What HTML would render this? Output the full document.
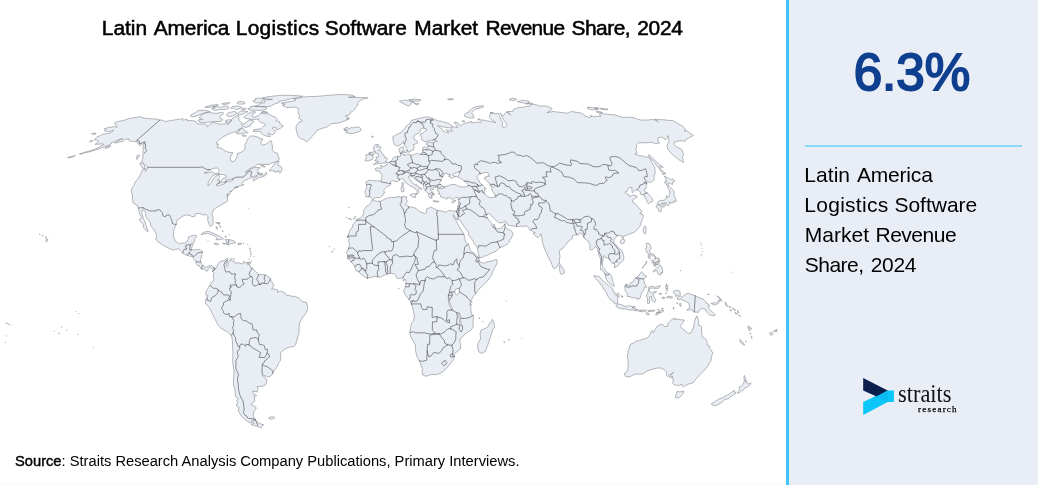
<!DOCTYPE html>
<html lang="en">
<head>
<meta charset="utf-8">
<title>Latin America Logistics Software Market Revenue Share, 2024</title>
<style>
html,body{margin:0;padding:0;}
body{width:1038px;height:485px;position:relative;overflow:hidden;background:#fff;font-family:"Liberation Sans",Arial,Helvetica,sans-serif;color:#000;}
.left{position:absolute;left:0;top:0;width:786px;height:485px;background:#fff;}
.title{position:absolute;left:0;top:15.5px;width:786px;height:24px;font-size:20.9px;line-height:24px;-webkit-text-stroke:0.55px #000;white-space:nowrap;}
.w{position:absolute;top:0;}
.map{position:absolute;left:0;top:0;}
.land{fill:#e9edf4;stroke:#7d7f84;stroke-width:0.55;stroke-linejoin:round;}
.lake{fill:#fff;stroke:#7d7f84;stroke-width:0.55;stroke-linejoin:round;}
.bord{fill:none;stroke:#5b5e65;stroke-width:0.7;stroke-linejoin:round;stroke-linecap:round;}
.source{position:absolute;left:15px;top:452px;font-size:14.7px;line-height:18px;white-space:nowrap;}
.source b{font-weight:normal;-webkit-text-stroke:0.4px #000;}
.botline{position:absolute;left:0;top:484px;width:786px;height:1px;background:#f6f8fc;}
.panel{position:absolute;left:786px;top:0;width:249px;height:485px;background:#e9edf5;border-left:3px solid #40c4ff;}
.big{position:absolute;left:-1.5px;top:42.5px;width:249px;text-align:center;font-size:51.2px;line-height:60px;font-weight:normal;-webkit-text-stroke:1.9px #0f3f8f;color:#0f3f8f;}
.rule{position:absolute;left:16px;top:145px;width:217px;height:2px;background:#8bd8f8;}
.desc{position:absolute;left:0;top:160px;width:249px;height:125px;font-size:21px;line-height:30.2px;white-space:nowrap;}
.logo{position:absolute;left:71.1px;top:376px;}
</style>
</head>
<body>
<div class="left">
<svg class="map" width="786" height="485" viewBox="0 0 786 485">
<path class="land" d="M456.5 211.1L452.4 211.2L451.3 210.6L448.4 210.7L447.4 211.4L445.4 212.2L441.7 211L437.3 210.5L434.8 209.2L431.8 207.5L430.8 207.1L426.5 209.1L426.7 212.4L424.9 213.7L419.3 211.4L416 208.4L412 207.1L409.7 207L408.5 206.5L405.4 204.6L406.7 202.5L407.5 201.2L406.4 199.7L406.2 198.4L407.1 196.8L405.5 197.3L404.6 196.1L402.3 197L400.3 197.1L397.6 196.6L394.8 197.5L390.6 197.4L387 198.1L382.9 200.1L379.7 201.6L378.2 201.1L376.2 201.2L373.3 200.4L373.3 199.6L371.9 199.9L371.5 201.4L370 204.2L368.4 205.4L366.5 206.2L364.8 208.6L363.7 210.6L363.4 212.7L364 213.4L362.6 215.9L360.2 218.1L356.7 219.5L355.7 221.6L353.2 224L352.1 227.6L349.9 230.1L349.1 233.1L347.4 237.3L348.6 236.8L349.2 238.8L348.5 240.8L349.5 244.1L348.3 249.3L346 252.6L347.5 254.8L347.7 255.7L347.6 258.1L349.2 259.6L351.4 262.1L354.2 265.6L355.1 268.1L355.9 270.4L359 271.9L360.5 273.6L364.4 276.8L367.3 278.4L371.1 277.3L375.5 276.2L379.7 277.4L383.8 275.4L386.9 274.1L389.6 273.4L391.8 273.3L394.2 273.8L396 275.6L396.6 277.8L397.7 278.6L399.7 278.3L402.6 277.9L403.9 279.3L405.7 279.6L406.1 281.9L405.8 284.7L405 288.2L403.5 290.9L404.8 294L405.5 295.3L407.8 297.9L410.4 301.3L411.2 303.2L411.5 304.4L412.5 306.8L413.1 308.9L413.3 311.3L413.7 313L414.5 316L413.6 320.7L411.6 323L410.7 327L409.9 332.4L409.9 334.5L410.4 335.4L413.3 341.3L415.4 345L415.5 346.6L415.4 349.3L416.7 355.9L419.3 360.7L420.1 362.4L420.9 365.5L422.6 368.7L422.1 371L421.8 371.7L422.7 374L422.8 375.1L423.5 374.5L423.5 375.2L425.9 376.3L430.5 374.7L433.1 374.5L436.1 374.7L437.8 374.1L440.6 373.2L442.8 371.7L446.5 368.4L450.1 363.9L452.5 361.2L453.6 359.2L454.6 356.4L454.1 354.1L454.9 353L456.2 352.3L460.7 348.8L460.5 344.3L460 341.8L459.8 338.9L463.1 336.4L464.8 334L468.1 332L471.3 329.8L473.2 326.8L473.2 325.5L473.1 321.6L473.4 316L472.6 315L471.5 314.3L471.1 311.5L470.7 308.8L470.8 306.3L469.9 305.3L470.4 301.9L471.7 299.4L472.7 297.3L474.5 294.9L478.2 290.2L481.4 286.8L484.3 284.2L486.8 281.8L491.2 275.9L492.4 272.3L493.9 269.4L495.5 266.1L497.1 263.2L496.8 259.7L495.5 259.4L492.2 261.1L490 261.4L488.3 261.4L483.1 263.2L480.8 262.6L479.7 260.9L478.9 260.3L477.7 260.4L479.2 259.4L479.2 258.1L477.9 256.8L475.3 254.6L474.3 253.1L471.9 251.8L470.4 250.3L469.7 248.1L469 245.8L468.2 244.3L465.5 242.1L465 240.3L464.8 236.8L463.4 233.8L461.3 229.6L460.7 229.5L459.2 226.7L457.7 224.1L456.9 222.5L456.4 221.2L454.7 218.5L453.6 216.6L453.2 214.5L453.6 215.4L454.6 216.7L455.8 218.7L457.3 220L457.7 218.1L457.9 216.9L458.3 215.6ZM492.4 319.3L494.1 323L494.5 327.8L492.7 329.3L491.8 333L490.1 338L487.6 345.5L485.4 351.5L481.2 353.3L478.7 351.8L477.6 346.5L478.3 342.5L480.5 339L480.1 333L481.3 329.8L485.3 328.5L488.8 325.8L489.3 323.3L491.1 322.3ZM348.3 218.5L350 218L349.3 219.2ZM350.6 219.1L351.5 219.1L351.2 220ZM353.4 219.1L354.8 217.6L354.7 218.9ZM354.9 216.4L355.7 216.4L355.2 217.1ZM346 217.4L346.5 217.4L346.3 218.1ZM332.4 251.1L333.1 251.6L332.7 252.1ZM329.2 246.6L329.8 246.6L329.6 247.1ZM330.8 252L331.2 251.8L331 252.3ZM334.2 248.8L334.8 249.1L334.4 249.3ZM402.9 279.9L404 280.1L403.5 281.2ZM398.6 288.3L399.2 288.6L398.7 289.2ZM470.6 303.7L471.4 304.3L471 305.4ZM471.7 301.5L472.1 302L471.7 302.9ZM479.2 317.8L479.7 318.3L479.2 319ZM483 321L483.4 321.3L483 321.8ZM503.8 341.5L505 342L504.3 342.6ZM508.7 339.3L509.5 339.8L508.8 340.5ZM506.4 300.8L506.7 301L506.5 301.3ZM348.1 207.4L349.2 207.5L348.7 207.8ZM521.7 338.4L522 338.5L521.7 338.7ZM104.3 128.8L109 127.5L114.4 126.6L116.8 127.5L117.2 126L115.8 125.5L114.7 122.9L117.4 121.7L124.3 120.2L128.5 118.7L132.4 118.1L140.2 116.6L142.3 117.6L144.9 118.2L149.8 118.6L156.9 119.2L159.8 120.1L162.8 120.2L165.4 121.7L170.6 120.4L172.3 120.4L179.4 119L180.3 119.7L182.7 118.2L183.3 120.4L186.9 119.1L187.1 120.6L192.7 120.6L196.4 121.7L197.2 123.9L202.1 124L206 124.2L207.1 125.7L206.9 126.8L209.3 125.1L210.7 123.2L214.1 122.5L218.4 124L224.9 124L227.1 122.4L227.6 124.7L229.5 123.4L230.3 121.5L232.5 118.3L238 115.4L239.1 118.1L238.7 120L240.5 121.7L242 123L242 125.1L246.2 122.5L249.2 119.8L253.7 121.1L253.1 122.5L250.6 124.5L250.6 125.7L246.2 127.4L243.3 126.7L241.3 127.5L240.9 129L236.8 131.2L233.9 132.3L230.3 133.2L226.5 135L222.8 137L220.4 138.8L217.4 141.3L216.4 144.1L218.5 144.2L217.2 147.5L221.3 148.2L224.4 150.6L228.1 152.2L232.8 152.6L230.1 157.7L230.9 161L233.1 162L236.1 158.9L237.5 155.3L237 153.8L241.8 152L245 149.2L244.9 146.4L244.7 144.5L246.8 142L247 139.5L250.3 135.9L254.1 136.2L257.2 136.8L259.3 137.7L259.6 138.8L262.9 138.9L261.2 141.5L260.9 143.8L262.2 145.2L265.7 144.2L268.3 142.5L271 140.5L271.9 143.6L272.5 147.1L272.2 149.4L274.1 152L277.3 153.2L277.6 154.9L278.3 156L279.4 159.4L277.2 161.3L271.9 163L269.2 164.4L262.7 164.4L257.3 164.4L254.6 166.6L252.7 167.1L248.9 169.5L245.1 172.5L249 170.3L251.8 168.5L254.7 167.4L260.2 167.7L257.2 169.6L258.3 170.5L257.4 171.9L257.7 174.1L259.2 174.7L262.3 174.9L263.4 175.4L264.8 173.9L266.3 172.2L266.7 174.6L263.9 176.3L258.2 178.1L253.3 180.9L252.7 179.9L253.8 178.1L257.2 176.3L257.1 175.4L254 176.5L251.7 177.3L248.8 178.8L247 179.5L244.3 180.4L242.5 182.9L241.6 183.7L242.2 184.6L243.5 184.3L243.3 185.2L241.7 185.6L240.2 185.7L237 186.3L234.3 187.7L238.6 187.1L234.4 188.1L234.1 188.4L231.2 192L230.4 190.7L230.7 192.4L228.8 195.4L227.6 196.5L228 193.1L226.9 194.6L226.9 196.9L227.5 197.1L227.4 201.2L224.9 202.7L221.3 204.7L216.6 207.5L213.8 209.4L212.1 213.4L212.9 218.2L213.2 222.6L212.3 225.3L210.2 226.5L209.1 224.1L207.7 219.9L207.9 216.6L205.9 214.2L203.2 215.1L199.8 213.5L198 213.6L196 213.5L194.6 216.6L192 216.6L190.2 215.6L187.1 215L185.3 215.1L183 216.1L180 218.1L177 220.1L176.2 224.5L174.1 229.3L173.2 233.7L173.7 237.1L175.7 241.3L177.3 242.6L179 244L182.9 242.8L185.4 243.1L188 239.7L188.7 236.8L190.4 236.1L194.1 235.3L196 235.3L196.6 236.5L194.8 238.8L194.4 241.1L193.4 243.6L192.3 245.6L191.8 247.8L190.3 249.6L192.4 249.7L194.9 249.8L196.7 249.5L199.9 249.7L202.6 251.8L201.9 254.3L201.1 258.1L200.7 259.3L200.6 261.9L201.9 264.3L203.6 266.3L205.1 267.3L206.7 267.1L208.7 265.9L209.6 265.3L211.8 265.8L214.2 267.7L214.5 269.4L212.8 271.3L212.3 268.6L209.5 266.9L208.3 268.6L207.6 270.8L206.2 271.3L204.8 269.8L203.5 268.8L201.9 269.2L200.4 268.2L199.7 265.8L197.3 265.3L195.9 263.6L196.2 261.7L194.6 259.8L193.2 258.1L192.7 256.6L190.5 256.3L187.8 255.5L185.2 254.6L182.7 253.1L180.2 250.3L178.8 248.8L176.6 249L173.7 250.2L170.5 249.1L166.6 247.2L163.4 245.3L162 244.5L157.8 241.7L155.4 238.3L156.4 237.7L156.7 235.6L155 231.3L152.4 227.8L150.5 225.3L150.4 222.6L147.9 219.6L145.9 216.9L145.5 212.4L144.8 211.1L142.5 209.9L141.8 211.9L142.2 214.9L143 217L144.6 221L145.8 224.4L147.1 229L148.5 230.8L147.3 232.1L146.8 230.7L143.4 227.8L143.2 223.9L141.1 222.1L138.9 219.7L141.1 218.9L141.3 217.1L139.3 213.4L138.8 209.7L138.3 208L138.2 207.6L136.8 204.9L133.2 203.2L132.4 197.9L132.5 194.9L131.4 192L131.9 188.3L134.1 185.2L134.8 182.4L138.4 178.1L140.8 174L142.9 168.8L145.9 169.3L145.4 171.4L146.9 169.7L147.6 167.3L147.2 166.6L145.5 164.9L144 163.4L141.5 162.1L142.7 159.6L142.9 157L142.8 154.6L143.9 153.5L142.6 152.2L143.4 149.6L142.9 147.8L143.7 145.3L144.5 142.7L141.6 144.8L139.5 145.5L138.6 143.8L136.9 142.3L135 141.4L130.5 141.3L128.7 140.2L129 138.8L124.8 139.5L122.8 141.3L120 141.8L114.7 143.1L116.3 142.2L119 140.1L123 138.6L119.4 139.3L116.1 140.9L111.7 142.7L111.2 144L105.5 146.4L100.8 148.2L95.6 149.9L89.8 151.8L84.6 152.8L82.8 153.3L84.7 152.2L91 150.6L97.2 148.2L102 145.5L104.2 144.3L102.1 143.8L99.1 144.1L95 144.4L97.8 142.5L98.3 141.3L96 139.9L94.5 140.1L95.8 137.9L96.6 137.2L100.8 135.4L102.6 134.4L108.3 133.4L111.6 132.5L112.6 131.2L113.8 130.3L109.6 131.4L105.5 131.2L104.3 130.8L105.9 129.5ZM306.8 141.8L303.8 139.7L300.3 138.6L298.4 136.8L297.3 133.9L296.9 131.9L296 129.2L296.1 126L299.1 122.1L302.5 121.1L300.9 119.6L298.3 117.9L299.8 116.3L298.4 113.6L298.3 110.3L298.1 108.1L295.1 107.2L286.8 107.6L284.3 106.4L282.1 105.3L285.2 104.2L281.2 103.1L289.6 101.6L294.5 100.8L296 99.9L293.5 98.9L299.7 98L303.2 97L310.2 96.6L318.4 96.3L325.4 95.5L332.3 95L341.1 94.5L349.3 94.8L352.9 95.5L355.1 96.7L348.3 97.3L360.2 97.5L368.2 97.8L362.5 99.2L359.4 100.9L357.3 103.6L357.6 105.5L355.7 107.4L354.6 109.3L352.6 111.2L350.9 112.2L349.6 114.7L345.4 116.1L349.6 118.3L346.3 119L348.6 119.2L344.3 121.1L340.7 122.5L335.7 123.4L331.5 123.6L327.4 126.8L321.7 128.6L317.2 130.1L314.8 133.4L311.7 136.8L309.4 139.5ZM214.2 267.7L215.3 269.3L216.6 266.8L218.4 263.3L220 261.7L221.5 261.2L224.4 260.4L227.3 258.2L227.9 259.8L226.4 261.3L227.1 262.6L228.5 261.6L230.3 260.6L230.9 258.8L231.3 260.6L234.2 261.3L235 263.1L237.4 262.8L239.3 262.9L242.2 263.9L243.3 263.2L246 262.6L248.4 262.5L246.8 263.8L248.1 264.3L250.2 265.6L250.6 267.8L252.8 268.6L256.3 272.3L258.5 274.4L262.7 274.6L265.3 274.9L269 277.1L270.4 278.8L271.8 281.8L274 285.1L271.6 289.2L273.9 288.8L277.5 289.8L277.5 292.5L279.8 290.8L282.8 292L285.2 293.3L286.6 295.5L288.5 295.3L292.1 296.3L295 296.3L299.4 298.5L302.5 301.7L306.5 302.3L307.7 307.2L307.6 309.4L305.8 313.4L304.4 315.5L303 316.7L300 321.8L299.1 326.3L299.1 330.4L299 333.6L298 335.5L297 340L295.7 344.3L293.7 346.6L291.2 346.8L288 347.5L284.7 349.3L281.4 351.8L280.3 353L280.8 358.2L280.5 360.5L278.8 362.5L278.2 364.2L276.7 367.5L274.7 369.6L272.6 373.6L270 376.7L267.3 376.5L263.7 375.4L262.3 374.2L262.7 375.7L265.7 377.9L265.5 379.2L267 380L266.1 384.2L264.1 385.6L259.6 386.7L257.1 386.3L258 389.2L257.3 391.8L252.6 391.2L252.9 392.9L253.7 394.4L255.6 394.4L256.7 395.6L255.1 396.4L254 396L254.3 397.3L254.8 400.5L254.5 401.4L251.5 403.6L251.9 405.2L255.6 406.7L256.2 408.3L254.1 411.3L254 412L253.2 414L253.7 417.6L255.6 419.3L253.6 419.7L251.9 420.2L251.7 421.3L251.7 423.1L249 422.1L246.4 420.4L243.7 418.5L241.3 416.1L239.9 413.7L238.2 410.1L239.2 407.6L236.4 405.9L237.4 402.8L236.9 400.3L238.5 398.6L235.8 397.1L235.3 393.9L235 391.7L234.9 388.8L233.7 385.5L233.4 381.2L233.6 378L234.1 371.9L233.3 366.7L233 364.1L232.6 360.5L232.9 356.9L232.9 353L232.7 348.4L232.3 339.8L231.4 335.4L229 333.4L227.4 331.8L224 330L220.2 327.6L217.4 324L215.2 319.4L211.5 312L210.4 309.5L208.4 306.5L205.6 303.8L205.6 302L205 301L206.8 298L208 295.5L205.6 294.8L206.1 291.7L206.6 290.2L207.5 289.3L208.5 286.9L210.4 284.8L211.3 282.8L214.4 279.6L213.4 278.8L213.4 275.6L213.9 272.8L212.8 271.3L214.5 269.4ZM255.5 420.1L252.7 420.7L253 422.1L254.3 423.5L251.8 424L251.2 424.7L255.4 425.9L258.6 426.8L261.2 427.8L261.9 426L263.8 424.8L261 424L258.5 422.8L256.7 421.2ZM268.6 418L270.4 416.8L273.3 416.8L274.9 417.6L273.5 419L270.3 419ZM262.5 111.8L266.9 112L267.5 113.6L270.1 114.9L273 116.3L275.9 117.7L277.4 119.2L276 120.6L279.9 121.7L279.8 123.8L283.3 126L280.4 128.3L276.3 129.9L275.9 127.5L273.1 127L272.6 129L275.6 131.2L273.9 133.9L272 135L270.5 134.5L267.9 133L270.2 136.8L265.8 135.9L262.2 134.1L261.5 132.3L258.7 131.2L253 131.4L253.8 129.7L261 128.8L263.2 126.6L265.6 124.5L263.7 123.2L260.2 122.3L258.7 120.2L258.5 119L255 119.4L250.3 119.4L248.4 118.7L244.8 118.3L244 116.9L247.5 114.2L251 112L255.1 111.6L255.3 112.6L252.3 114.4L252.3 116.5L254.3 117.3L259 115.3L260.8 113.4ZM205.4 112.8L210.2 112.6L216.1 113.4L219.8 112.8L222.8 112.2L223.6 113.6L220.3 116.1L219.8 118.1L223 119.8L220.7 121.5L215.8 121.5L212.4 121.7L207 122.3L201.2 122.5L199 121.5L198.1 120L202.7 119.4L199.3 118.1L199.9 116.5L202.9 114.2ZM190.2 115.3L191.3 116.9L194.9 116.5L199.1 114.9L205.6 112.6L209.8 111.6L207.8 110.9L203.3 110.3L197.5 110.7L196 112.4ZM282.6 95.3L290.5 95.3L297.9 95.7L302.6 96.2L298.1 97.5L292.6 98.4L284.5 100.4L278.8 101.3L278.8 102.7L274.9 103.8L270.2 106.4L265.8 106.5L259.2 106.6L254.3 106.4L258.8 104.9L259.9 103.3L264.7 102.7L264 100.9L267 99.6L272.6 99.4L265 98.9L262.3 97.8L269.2 96.6L276.9 95.7ZM255 98.7L260.6 98.1L264.6 99.2L262.5 100.4L262.2 101.8L256.5 103.1L254.4 102.5L252.7 101.1L255.9 100.2ZM250.8 106.2L256.4 106.4L262.1 106.6L266.8 107.7L266 109.5L261.6 110.3L255.6 110.3L249.8 110.1L247.7 108.9L250.9 107.6ZM212.8 107L217.2 106.4L220.3 107.4L226.7 105.9L229.1 107.4L228.5 108.5L225.1 109.5L219.7 109.7L214.5 110.3L211.7 108.9L215.2 107.9ZM232.5 106.4L238.7 106L241.6 107.4L238 109.3L235 109.3L233.3 108.1L230.9 108.3ZM242.2 108.1L246.2 108.5L244.5 109.9L241.5 109.5ZM228.2 112.8L234.2 111.4L236.4 112.2L236.4 113.8L232.9 115.9L229 116.7L226.5 115.3ZM240.6 111L245.7 111.2L248 111.6L243.5 113.6L238.9 115.3L237.2 114ZM225.6 120.4L229.5 119.6L232 120.4L229.6 122.3L225.7 122.1ZM238.6 129.2L243 128.3L243.8 129.7L246.8 131.4L248.1 132.7L243.2 133L238.3 134.1L235.9 133L239.1 131.6ZM204.8 107L211.9 105.1L218.4 104.6L217.5 105.7L211.4 107L206.2 107.6ZM238.3 101.5L242.5 101.5L244.5 102.5L245 103.8L239.6 104.2L236.8 103.1ZM221.9 103.6L229.8 102.5L228.7 103.8L223.1 104.7ZM242.1 134.8L244.5 135L246.4 136.1L242.8 136.3ZM261.8 111.8L266.1 112L267.6 113L264.1 113.6L261.4 113.2ZM268.9 170.7L271.1 168.5L274.5 163.9L276.5 161.8L279.2 161L277.3 164.2L277.9 165.1L281.3 166.6L281.8 168.3L281.7 170.7L280.1 173L278.8 172.2L278.8 170.7L275.2 172.4L275.2 171ZM260.7 165.1L264.3 165.9L265.2 167.1L262.1 166.6ZM258.6 172.4L260.8 173.4L262.8 173.5L260.8 174.6L258.7 173.9ZM139.8 163L142.3 163.2L144.3 164.9L145.2 168.8L142.8 168L141 165.9ZM137.4 155.1L139.6 155.3L137 159.6L136.5 157.4ZM105.9 146.9L110.8 145.7L109.6 147.1L105.2 148.7ZM79.4 153.9L82.9 153.1L82 153.9L79.5 154.4ZM70.8 157L75.3 155.3L74.3 156.3L70.6 157.4ZM67.5 157.9L70.9 156.5L70.3 157.2ZM90 140.9L92.9 140.4L92 141.5L89.8 141.8ZM91.6 133.6L95.4 133L96 134.1L92.8 134.3ZM46.3 238.8L48.2 239.8L46.4 242L45.8 240.3ZM45.3 236.8L46.6 237.3L45.7 237.8ZM42.4 235.3L43.3 235.8L42.6 236.1ZM39.4 234L40.2 234.1L39.8 234.6ZM200.9 234.6L203.1 232.6L206.5 231.5L209.7 231.6L212.8 233.1L216.8 234.8L220.5 236.8L223.5 238.7L221.3 239.6L216 239.7L217.3 238.1L214.6 235.8L210.4 234.3L207.3 233.3L204 234.1ZM222.5 243.5L224.7 243.7L227.2 242.8L226.3 241.3L225.2 239.6L228.2 239.6L231.4 240L233.9 241.1L235.8 242.8L233.2 243.3L230.6 243.6L228.7 245.2L226.6 244ZM214 243.5L216.9 243.2L218.6 244.3L216.3 245ZM238.1 243.3L241.6 243.3L240.9 244.5L238.1 244.5ZM248.4 262.4L250.5 262.3L250.2 264.1L248.3 264.1ZM216.2 226.6L217.2 227.1L217.1 229.3L216.2 228.3ZM215.6 222.6L217.7 222.5L219.3 223.4L218.8 223.9L216.4 223ZM218.9 222.1L219.6 223.1L218.9 224.6ZM224.9 236.3L226.2 236.1L226.1 237L225 237ZM219.6 225.6L220.8 226.3L220.7 227.6ZM222.2 230.3L222.9 231.5L222.9 232.1ZM249.5 248.6L250.6 248.3L250 249.3ZM250.6 252.3L251.3 252.6L251.1 253.3ZM243 243.3L243.9 243.3L243.4 243.7ZM246.9 244L247.4 244.1L247 244.3ZM249.5 246.5L249.9 246.6L249.7 246.8ZM250 250.3L250.6 250.7L250.3 251.3ZM250.7 254.1L251.1 254.6L250.7 255.1ZM250.1 256L250.5 256.2L250.3 256.6ZM253.7 256.1L254.1 256.5L253.9 256.7ZM248.8 258.8L249.3 258.9L249 259.3ZM250.8 261.1L251.6 261.1L251.1 261.4ZM232.7 258.4L233.6 259.2L233.1 259.1ZM230.8 257.8L231.1 258.2L230.9 258.3ZM234.4 258.6L234.8 259.1L234.4 259.2ZM243 261.8L244.3 261.6L244.1 262.1ZM228.8 234.6L229.6 234.8L229.1 235.1ZM207.7 241L208.3 241.1L207.8 241.2ZM248 208.5L248.4 208.5L248.2 208.7ZM456.5 211.1L456.9 210.6L457.4 209.2L457.7 207.4L458 206.2L458.5 204.6L458.9 203.2L458.5 200.6L458.7 199.1L459.1 197.9L457.4 198L455.7 197.4L454.5 198.6L452.3 199.3L450.4 198L447.6 197.3L447.2 198.9L445.6 198.9L444.4 197.8L442.6 197.4L440.8 196.9L440.3 194.8L438.2 193.6L439.4 193.3L438.8 191.2L437.4 190.7L437.6 189.4L438.6 187.9L437.1 187.6L436.7 187.3L433.7 187.1L433 188.4L433.9 189L433.1 189.5L431.9 189.5L430.8 187.9L430.1 188.3L430.2 189.4L432 191.5L431.5 192.8L433.6 193.9L433.7 195.3L432.7 194.5L431.5 194.6L431.9 195.4L432.7 195.8L432.1 196.1L431.2 195.5L431.5 196.5L432.2 198.3L430.8 197.5L430.8 198.4L429.9 196.9L429.4 197.6L428.9 196.3L428.1 195.3L428.8 193.8L430.4 194L430.2 193.4L428.1 193.5L427.5 193L426.7 192L425.6 190.7L425 189.7L423.7 188.3L423.6 186.2L423.3 184.8L422.7 184.2L421.5 183.5L420.6 182.9L419.2 181.9L417.1 180.8L416 180.1L414.5 179.3L413.7 177.1L412.8 176.3L411.7 177.4L410.9 175.8L411.4 175.5L410.9 175.2L410.1 175.5L408.7 176.1L409 177.2L408.7 178.4L409.3 179.4L411.2 180.5L412.8 183.4L415.1 184.7L416.9 184.7L416.3 185.5L418.3 186.6L420.7 187.8L421.9 189L421.6 189.9L420.9 189.3L419.2 188.3L417.9 190L419.3 191.7L418.2 192.7L417.2 194.6L416.4 194.1L416.8 192.7L417.4 192.2L417 191L416 189.3L415.4 189.3L414.2 187.8L413.1 187.3L411.7 186.4L409.7 185.8L409 185.1L408 184.2L406.6 183.5L405.3 182.1L404.8 180.6L403.9 179.4L402 178.5L401.2 178.8L400.2 179.8L398.8 180.3L397.6 181.4L396.2 181.7L395 181.3L393.7 181.1L392.1 180.6L390.5 181.7L390.4 183.2L390.9 183.7L390.7 184.7L388.7 186L386.8 186.7L386 187.7L384.3 189.5L383.7 190.8L384.8 192.6L383.3 193.5L382.8 195.3L382.2 195.4L379.7 197.6L377.1 197.6L375.2 197.6L373.2 199.1L372.7 199.4L371.3 198.1L371.1 197.4L370 196.4L368 196.9L365.7 196.8L366.1 194.5L365.4 193.3L364.8 192.5L365.1 191L366.2 189L366.7 186.6L366.5 184.8L366.5 184L365.7 182.2L367.5 181.1L368.9 180.1L370.2 180.6L372.6 180.4L376.7 180.8L380.3 181.2L381.2 180.8L381.8 177.9L382.1 175.7L381.9 174.3L380.8 173.4L380 171.6L378.2 171L375.8 170.2L375.1 169.7L375 168.9L376.6 168L378.5 167.7L379.1 168.4L380.4 168.2L381.4 168.2L380.5 165.6L381.8 165.6L382 166.5L383.8 166.6L384.5 166.1L386.3 165.1L387.2 164.4L387.3 163.1L387.3 162.8L387.8 162.5L389.1 162.3L390.7 161.6L391.1 161.4L392 160.1L392.8 158.9L393.2 157.8L393.6 157.7L394.4 157.3L395.9 156.7L397.4 156.9L397.7 157.1L397.5 156.1L399.2 156L399.4 156.5L400.2 156.4L400.5 155.6L401 155.5L400.7 155L400.2 154.6L400.9 154.1L400.2 153.2L399.8 151.8L399.1 151.6L399.1 150.3L399.2 148.9L399.8 148L402.2 146.9L403.4 146.5L403.3 147.2L402.9 148.2L404.2 149.6L402.9 150.2L402.2 151.6L401.7 151.8L401.7 152.8L401.7 153.4L403.1 154.5L404.7 154.4L404.5 155.4L405.6 155.5L406.7 154.9L407.4 154.2L408.6 154.6L409 153.7L409.7 154.6L410.8 155.5L413.1 154.9L415.4 153.9L416.7 153.5L418.1 153.3L419.4 154.5L420.6 154.2L421.1 153.8L421.1 153.1L422.1 153.1L422.9 152.3L422.9 151.3L422.7 150.4L422.5 149.4L423.2 147.3L424.9 146.5L426.3 148L427.9 148.1L428 146.2L428.1 145L426.2 144.6L426.1 143.7L426 143.1L426.9 142.8L428.1 142.6L430.3 142.2L431.2 142.5L434 142.5L434.6 142L435.5 141.5L437.5 141.5L436.5 141L434.5 140.5L434.5 139.7L433 140.1L431.6 140.3L428.2 141L424.8 141.7L422.5 140.3L421.5 139.5L421.7 138.7L421.6 137.7L421.1 136.2L420.3 134.1L422.8 133L423.5 132.6L425.4 130.8L426.9 130.1L426.5 129L425.1 128.5L424.4 128.3L422.8 128.3L421.3 128.9L420.2 129.4L420 130.9L420.7 131.2L418.8 133L416.3 134L415.1 135.4L414.2 135.9L414 137.4L414 138.4L414.4 139.8L415.7 139.9L416.7 140.5L417.4 141.9L417.8 142.9L416.2 143.8L414.6 144.2L413.2 144.5L414.2 146.5L414 147.6L414 149L413.2 150.4L411.4 150.2L410.4 150.8L410.6 151.6L409.7 151.9L407.8 152L408.1 151.5L407.5 150.5L407 149.9L407.6 149.1L406.4 148L405.7 146.6L404.7 145.3L404.2 143.8L403.7 143.1L403.2 141.5L402.8 142.7L402.1 143.5L401.1 143.9L400 144.9L398.6 145.6L396.9 146L396.1 145.7L395 144.9L394.2 144.2L394.2 143.6L393.6 142.7L393.5 141.9L393.1 140.4L392.9 138.8L393 137.7L393.1 136.3L394.8 135.7L396.1 134.6L397.4 134.3L398.7 133.3L400.6 133L401.5 131.6L403.2 130.4L404.6 129.1L405.2 127.9L405.7 126.6L407.8 125.1L409.3 123.6L410.4 122.7L410.8 121.9L411.4 120.6L414 119.6L416.7 119L417.9 118.6L421.6 118L424.6 117L427.5 117L429.9 117.6L433.4 118.6L431.4 119.2L430.2 119.2L432.1 119.9L433.3 119.8L434 120.2L435.2 119.5L437.7 120.8L440.5 121.1L443.8 122.1L448.7 123.3L451.8 125.5L452.4 126.8L450.5 127.6L448.1 127.8L443.7 127L440.9 126.4L437.4 125.4L438.8 127L441.7 128.6L442.6 130.2L442.9 131.1L445.2 132.1L447.6 132.7L448.9 132.5L447.5 131.4L445.9 129.8L448.1 130.4L451.1 131.1L452.5 131.1L451.7 130.3L450.6 128.8L452.2 127.7L453.6 126.8L455.8 127.1L457.8 128.1L456.8 126.6L457 125.7L455.5 124L454 122.2L456.9 122.5L458.9 123.6L459.6 125.3L460.7 126.1L462.2 124.5L463.6 123.9L465.3 123.4L468.2 122.5L470.2 121.7L471.8 121.6L471.7 123.2L473.8 122.5L476.9 122.3L477.5 121.9L480.9 122.9L481.3 121.5L480.9 119.8L482.3 119.9L488 121.1L490.9 121.3L495.8 122.7L492.7 120.4L489.2 117L490.3 113.5L492.1 112.9L496.1 113.8L498.2 113.3L499.3 115.2L500.1 117.5L501.2 120.1L502.5 121.9L502.2 125L502.8 127.4L504.5 127.8L506.5 125.6L506.8 123.6L504.8 121.3L503.3 119.6L502.2 117L500.7 114.1L499.9 112.9L501.9 114.7L503.3 116.1L503.9 114.7L507.1 111.8L509.4 113.8L510.8 115.2L508.8 113L506.6 111.8L510 111.5L513.4 111.2L513.4 109.5L516.3 108.3L519.1 107.6L523.1 107.2L526.6 106.4L529.5 106.4L530.1 105.1L532.9 104.2L536.1 104.7L539.2 106L540.7 106L545.8 106L547 106.4L550.7 107.6L551.7 108.1L551.8 109.3L550 111.2L549.2 111.2L547.2 112.8L551.4 111.8L554 111.4L556.4 112.2L557.7 112L564.7 112.8L567.5 113.2L570.3 111.8L571.6 111.6L576.1 112.2L579.9 112.8L581.9 113.4L584.8 115.5L584.5 116L590 117.7L591.6 116.5L590 115.5L593.9 116.5L596 116.3L598.6 116.5L600.7 116.3L599.4 114.2L599.7 113.5L604.4 113.9L608.9 114.4L614.9 114.9L619.9 116.7L623.5 117.5L626.9 117.2L630.1 117.2L635.4 118.1L638 119.4L641.6 120.2L645.2 120L649.9 119.9L651.1 119.4L655.3 120L658.4 121.9L654.5 119.2L659.9 119.7L663.5 119.7L668.2 120.4L672.8 120.6L682.7 126.4L686 129.7L684.4 130.9L687.2 131L693.4 135.5L689.3 137.6L686 139.6L685.2 141.3L680 140.7L674.5 142.1L673.6 144.2L676.9 147L681.9 149.5L683.5 154.5L682.7 157.8L683.5 162.4L679.3 160.1L673.4 155.3L668.6 150.6L667.4 148.2L667 145.9L668 143.6L668.9 141.3L668.8 139L667.6 135.6L667.5 137.7L665.5 139.9L662.3 137.2L658.2 137.5L657.8 139L658.5 142.2L659.5 143.1L655.6 143.6L651.2 142.3L648.3 142.7L645 142.9L642.1 142.7L638.2 142.8L636.3 144.8L636.5 146.9L635.8 149.5L637.1 152.9L634.8 153.9L639.2 155.8L642 155.8L646.6 157.2L648.3 157L650.7 159.6L651 161.3L654.8 167.3L654.9 171L655.4 172.7L654.2 175.6L654.1 178.3L653.9 180.1L650.5 182.5L648.1 181.7L646.5 182.9L646.9 183.7L645.8 185L646.7 186.9L646.1 187.7L645 189.4L644 189.9L644.5 191.5L647.2 192.9L649.2 195L651.2 196.9L652.6 199.3L652.9 200.6L652.6 201.6L650.7 202.1L650.3 202.6L648.2 203.6L647.3 202.4L646.5 199.5L644.8 197.5L644.9 195.8L643.5 195L642.4 194.5L640 194L640.5 192.7L639.3 190.7L637.3 189.8L634.9 190.4L633 192.2L632.2 192.6L631.9 190.4L632 187.8L629.3 187.4L627.6 189.7L627.1 191.5L624.9 192L626.3 193.9L629.3 195L629.5 196.4L630.6 196.6L632.4 194.8L634.1 195.5L635.7 195.6L636.9 195.9L636.9 197.3L633.5 199.3L632.6 200.9L633 202.5L635.2 203.6L637.8 206.9L641.1 210.1L641.9 212.1L640.1 212.9L639.9 213.6L643 214.6L643.2 216.6L643 217.9L642.2 219.6L641.4 221.4L640.7 224.4L639.6 227.1L638.2 228.2L635.8 231L633.4 232.6L630.9 233.6L629.4 234L627.4 235.1L626.1 235.3L623.4 236.3L623.2 238.7L621.7 237.1L621.7 235.8L620.1 235.7L618.4 235.3L617.7 235.6L615.5 237.6L614 239.5L614 242.5L615.9 244.6L616.4 245.7L618.9 248L620.4 249.1L622.2 251.3L623.3 255L624 257.1L623.6 258.7L623.7 259.7L623.3 260.4L621.5 262.1L619.4 263.4L618.3 265.4L616.2 266.8L614.6 267.8L614.6 264.8L615 264.3L613.6 263.3L611.5 262.8L610.1 260.3L609.1 259.1L607.8 258.1L606.2 257.7L605.3 257.8L605.3 257L604.3 255.6L603.2 256L603.3 257.9L603.1 259.8L602.2 263.1L602.5 266.3L604.4 268.2L605.2 270.3L605.7 271.3L607.3 272.1L608.5 273.3L609.5 273.8L611.5 275.9L612.3 279.8L613.4 283.2L614.4 285.9L613.4 286.1L612.6 286.1L611.3 284.8L609.8 283.8L608.8 283.1L607.7 281.8L606.5 279.6L606 278.8L605.4 275.9L605.2 274.1L604.5 272.9L603 271.1L601.8 269.3L600.5 269.8L600.5 268.9L600.3 267.6L600.9 264.4L600.3 258.2L598.7 254.1L597.9 251.2L597 248.1L595.3 246.3L594.2 248.1L592.5 249.8L591.6 250L589.8 249.3L590 245.6L589.2 243.2L587.3 240.8L585.6 239L584.1 237.6L583.1 235.7L582.4 233.6L580.6 233.1L580 233.3L577.6 234.8L576.8 234.8L574.4 235.1L573.4 235.3L572.4 235.7L572.4 237.5L572.1 238.7L570.4 239.8L568.5 241.2L565.5 245.1L563.6 247L563.7 247.8L561.3 249L560.8 250L559.2 250.8L559.5 253.3L560.1 256.6L559.3 259.4L559.6 263.6L558.4 263.6L557.8 266.1L556.2 267.3L554.9 269.1L553.4 268.1L551.8 264.4L550.5 261.2L548.2 257.1L546.2 252.3L545.4 250.6L543.9 246.8L542.4 242L542 238.3L540.8 233.8L540.3 235L538 237.6L536.5 237.1L534.7 235.2L533.1 233.7L534.7 233.1L535.2 232.3L533.8 232.3L532.3 231.2L531.1 230.2L529.5 229.6L528.2 227.3L527.1 225.8L523 226.3L520.4 226.2L518 226.6L516.5 226.3L514.3 226.1L508.2 225.2L506.2 222.6L505.8 221.6L504.5 221.5L501.7 223L498.7 222.6L496.5 220.9L495.2 219.7L492.3 217L490.6 214.4L488.4 213.2L487.1 214.5L486.2 216L487.3 218L490.4 221.9L491.7 223.2L491.8 225.6L493.4 227.5L493.1 225.6L493.9 224L494.9 226.1L495.2 227.8L495.2 228.7L497.4 228.8L501.2 228.2L502.9 226.1L504.3 224.9L504.9 223.5L505.3 226.9L506.3 228.5L510.4 230.3L513.3 233.1L512.3 235.8L511.4 238.1L509.4 240.2L509.8 241.8L507 244.5L504.6 245.5L502.1 246.8L500 247.7L498.1 248.8L496.1 251.3L491.7 253L489.1 254.3L486.5 255.7L484.3 256L482.8 257.3L479.5 257.7L479 256.1L478.1 252.3L477.7 249.6L477.6 248.3L477 247.1L474.3 243.6L473.4 241.5L471.4 238.6L468.9 235.6L468.4 232.3L466.1 229.1L464.1 226.7L462.3 223.7L460.5 221L458.8 219.1L458 219.4L458.5 216L458.5 215.5L458.3 215.6ZM697.1 316L698.7 320.8L698.7 325.3L700.4 325.5L701.8 326.8L701.4 330.5L702.1 333.8L702 336.5L704.3 337.8L706.4 340L707.1 342.5L707.3 345.3L709.5 346L709.2 348.3L710.9 349.8L712.7 352.8L711.6 356.7L711 360.7L707.6 366.2L704.8 370L700.5 373.7L698 376.7L694.6 380.5L692.9 383L689.4 383.8L685.4 385.5L683.3 386.9L682.2 385.7L681.9 384L679.3 385.5L676.3 385.2L673.7 384.3L672.5 382.7L673.3 380L673.3 378.2L671.7 378.2L672.6 376.2L670.9 377.2L669 377.2L671.3 375L673.4 372L671.7 373.7L667.3 376.5L666.6 375.7L666.7 373.2L665.9 371.2L664 369.5L660.8 368L656.1 368.2L651.3 369.7L646.6 371L643 373.9L639.6 374.1L635 374.1L631 376.2L629.2 377L625.7 376.4L624.3 375.1L624.8 373.2L626.5 372.5L627.8 369.2L628.1 365.7L628.2 362.5L627.8 358.7L627 355L628.3 354L628 351.5L629.3 348L629.6 345.8L630.9 343.8L632.1 343.8L634 342.8L636.9 340.8L639.1 340.8L642.2 339.3L646.7 338.3L650 334.8L650.4 332.3L652.2 330.5L653.4 332.8L654.5 330L656.3 327.8L657.9 325.8L660.3 324.5L662.1 324L664 326.3L665.1 326.3L667.4 326.5L668.1 323.3L669.7 321.5L671.4 319.8L675.1 318L674.9 319.8L677 318.8L680.2 319.8L682.4 319.8L684.3 320L683.1 322.5L681.5 324.3L680.3 326.5L682.8 329L685.5 331L687.5 332.8L688.9 333.5L691.1 332.5L692.7 329.3L693.9 326.5L694.2 323L694.7 320.8L696.1 316.8ZM677.5 390.9L679.5 391.9L683.8 391.2L682.7 394.1L679.9 397.1L677.2 398.1L675.6 397.8L675.7 395.6ZM744.3 375.4L744.8 376.7L745.9 378.7L745.1 381.2L746.9 380.7L746.3 383L747.9 384L750.4 383.2L751.3 383.5L747.7 386.9L745.5 387.4L743.7 389.7L739.8 392.4L737.5 393.3L737.2 392.4L740 389.7L739 387.9L739.1 387.2L741.4 386.2L743.5 383.7L744.4 380.7L743.9 377.5ZM734.6 390.4L734.3 392.2L736 392.9L734.4 394.1L730.3 396.9L728.5 398.6L724.5 399.8L720.8 403.2L716.5 405.3L713.9 405.4L711.3 404.5L712.4 403L718.3 399.3L722.5 397.8L728.2 394.6L732.7 391.4ZM673.3 291.3L676.4 290.3L680 291.3L680.3 295.5L682 297.5L684.3 295L688.3 293L690.9 294.3L695.3 295.8L699.6 297.8L703.1 299L705.6 301.5L705.9 303L708.7 304.3L709.7 306L708.1 306.5L709.8 309.5L712.2 312L713.8 313.5L715.4 314.9L713.6 315.8L709.3 314.8L707.5 313L705.4 309.5L702.2 308.3L699.4 310L698.6 312.3L694.2 312L691.1 309.5L687.8 310.3L686.9 310.3L689.8 307L688.7 303.3L685.1 301L680.8 299.3L677.5 299.5L677.1 297.5L679.4 296.3L677.7 295.3L675.4 296.5L675.9 294.5L673.3 292.8ZM711 303.3L713.6 303L716.5 302.9L718.9 299.8L720.2 300L719.2 302.5L716.6 304.5L713.5 305ZM716.9 295.8L719.5 297.5L721.6 299.8L721.5 301.3L720.3 299.3L717.8 296.8ZM724.9 302L726.4 303.8L727.5 306.3L726 305.5ZM707.7 294.3L709.5 294.3L709 294.8ZM728.8 306L730.9 307.5L729.8 307.5ZM732 308L735.7 310.3L734.4 310ZM735 312.5L737.5 313.8L735.7 314ZM737.7 310.3L738.7 313L737.9 312.5ZM738.7 315L740.5 316.3L739.2 316ZM730.1 309.3L731.5 310.8L730.6 311ZM739.7 339.5L742.3 341.8L744.7 345L743.3 344.8L740.6 342.5ZM745.9 341.3L746.4 342L745.5 342ZM6.1 323L7.4 323.3L6.9 323.8ZM8 323.9L9.1 324.1L8.5 324.4ZM5.1 342L5.7 342.1L5.4 342.4ZM58.7 333.1L59.6 333.3L59.5 333.9ZM76.1 311.4L76.5 311.5L76.3 311.8ZM700.9 255.8L701.5 255.5L701.3 256.2ZM680.3 270.8L680.6 270.3L680.5 271.1ZM732.4 272.1L732.7 271.9L732.7 272.3ZM594.2 275.3L596.9 276.3L599.1 276.3L601 278.8L602.6 280.3L604.9 282.6L606.6 283.8L608.2 285.1L610 286.8L611.6 287.8L612.9 289.3L612.7 291.3L614.6 292L615 294L615.9 295.3L618.1 296.5L618 297.5L617.5 299.8L617.5 303.8L616.2 303.8L614.7 304L614.1 302L611.3 300.3L609.8 299L608.1 296.5L606.9 294.5L605.8 291.8L604.5 289.3L603 288.6L602.3 285.3L600 283.8L598.6 281.3L596.6 279.8L594.5 277.3ZM615.9 306.3L617.8 304L619.9 304.2L622.8 305L623.6 306.3L627.1 306.5L628.5 305.3L629.8 306L632.1 306.5L632.9 308.5L636 308.8L635.8 311L633.2 310L629.5 310L626.3 309L623 308.8L620.8 308.5L618.4 307.8ZM632.4 306.8L635 306.5L635.2 307.2L632.5 307.3ZM636.1 309.8L637.7 309.5L638.7 310.3L637.6 311.3ZM639.2 310.3L640.7 310L640.6 311.5L639.3 311.4ZM641.1 310.5L643.6 309.5L644.4 310.3L646.2 310.3L645.9 311.2L643.7 311.5L641.5 311.9ZM647.7 310.5L650.4 310.3L653.2 310.3L654.8 310L654.3 311L651.4 311.5L648.1 311.3ZM645.8 313L648 312.8L649.6 314.3L647.8 315L646.1 313.8ZM655.5 315L656.8 312.8L659.1 311.5L661.4 310.5L664.2 310.3L662.4 311.8L659.4 313L657.5 314.8ZM657.7 309.8L659.4 309.7L658.5 310.3ZM661.1 308.5L663.3 308.4L662.6 309.2ZM673 307.8L674.1 307.3L673.5 309.3ZM679.9 303L681.2 303.8L680.6 306.5L679.6 305ZM677.1 302.5L677.7 303.3L677 304ZM624.8 285.6L626.2 284.2L627.6 285.1L629.6 285.8L630 283.3L633.3 281.6L635.3 278.3L636.8 277.3L638.5 275.8L640.2 273.6L641.4 271.8L642.5 272.8L643.5 274.6L646.9 276.3L644.8 277.8L643.5 278.9L644 280.6L644.6 283.6L646.9 287.1L644.2 287.3L643.6 290.5L641.5 292.8L641 295.5L640.1 298.3L637.1 299.5L636.8 298L634.8 297.8L631.3 297.8L630.4 296.5L627.3 296.5L627.2 293.3L625 290.8L625.2 288.6L624.6 287.1ZM648.6 287.3L650.8 286.1L655.5 287.1L659 286.1L660.5 285.3L658.6 288.3L656.4 288.6L652.4 288.1L649.7 288.3L649.1 291L651.3 292.8L655.5 291.4L656.6 291.8L653.9 293.5L652.8 294L654.2 297.3L655.9 299.8L654.4 302.8L652.9 301.3L652.1 300.8L651.2 296L649.6 296.8L649.6 301.3L649.5 303.3L647.5 303.3L647.7 300L647.4 297.8L646.3 296.3L647.3 293.5L648.4 291L648.6 289.1ZM665.6 286.8L666.4 283.8L666.7 286.3L668.2 285.8L667.2 287.6L668.3 288.6L666.7 288.6L667.4 291.3L666.3 289.8ZM666.3 297.3L668.8 296.3L672.8 297L670.9 298.3L668.5 297.8ZM662.2 297.3L664.1 297L664.8 298.3L663.2 298.9L662.1 298.3ZM665.4 292.8L666.7 293L666 293.7ZM658.7 293.5L662 293.9L660 294.3ZM616.4 293.8L618.2 293L619.6 295.5L618.5 296.8L617.2 295ZM621.6 295.8L622.9 296L622.7 297.3L621.6 297ZM646.4 243.1L649.3 243.6L650.6 246.1L651.4 248.6L649.6 249.6L650.4 253.8L652.2 253.8L654 254.6L656.2 257.8L655.4 257.1L653.5 255.6L652.2 256.1L650.8 254.8L648.4 254.8L647.9 252.8L646.7 252.3L645.5 248.6L646.7 247.8L646.3 245.3ZM647.8 255.8L649.8 255.8L650.3 258.3L649.2 258.6ZM642 268.3L643.8 266.3L645.6 263.6L646.9 261.1L646.2 262.8L644.4 265.3ZM651.8 259.8L654.3 260.6L653.4 263.1L652.1 262.8ZM654 262.1L655.3 262.3L654.9 266.6L653.4 264.8ZM655.3 263.6L656.3 261.3L656.4 263.6L655.4 265.6ZM656.6 258.1L658.8 258.1L660.1 261.6L658.5 261.3L658.2 259.8ZM657.2 260.8L658.6 261.8L659.2 263.8L658.4 264.3ZM656.2 264.6L657.7 264.1L657.8 265.1L656.7 265.3ZM652.8 271.8L654.4 269.8L656.5 268.1L658.6 267.1L660 264.8L661.7 266.8L662.6 270.6L662.2 273.6L661 272.1L660.5 275.3L657.8 273.8L657.1 270.6L655.4 270.8L653.3 272.1ZM654.2 258.1L656 258.6L655.3 259.6ZM620.2 241.1L622 239.3L623.9 239.1L625 240.3L624.1 242.8L622.3 243.8L620.5 243.1ZM642.9 230.6L644.1 226.8L645.2 226.1L646.1 227.1L645.9 231.3L645.4 234.3L643.5 232.3ZM559.7 264.8L560.5 264.8L562.8 268.1L564.3 270.6L564.2 273.1L561.8 274.4L560.7 274.1L559.9 271.8L559.6 268.8ZM657.7 204.4L657.3 203.1L659.5 200.6L660.9 200.4L663 200.4L664.7 200.1L665.8 198.9L666.2 196.9L666.8 195.6L667 197.3L669.1 196.4L669.5 194.8L670 193.1L669.1 189.7L667.9 187.9L667.8 186.4L668.8 185.7L671.3 188.2L673.7 190.4L674.4 193.6L673.8 194.4L675 197.1L675.3 198.9L676.4 200.1L676 201.6L675.1 202L674.3 200.6L673.4 201.4L673.5 202.9L672.2 202.7L670.4 202.9L669.1 201.9L669.7 203.6L669.1 204.6L668.5 205.7L666.6 204.6L666.2 202.9L663.5 202.9L660.8 203.9L660.3 204.7L657.9 204.5ZM666.8 185.7L666.1 183.7L664.5 182.7L665 181.3L666.8 181.3L665.4 178.3L664.2 175.8L667.4 177.8L671.4 179.5L672.8 178.8L675.1 181.3L672.5 182.1L672.6 184.5L668.7 183L667.2 183.5L668.5 185ZM655.9 206.1L657.8 204.6L659.8 205.4L661.2 207.4L661.3 210.6L660.5 211.9L658.9 211.1L657.8 208.1L656.7 207.6ZM661.4 205.9L662.1 204.4L664.2 203.5L665.8 204.9L665.3 206.1L663.2 206.1L663.2 207.5ZM663.6 174.9L661.7 172.2L658.8 168L656 164.9L653.7 161.3L649 157L648.6 154.6L652.5 157.7L655.7 161.3L659.7 164.9L663.3 167.3L659.4 166.6L661 169.7L664.7 172.7L666 174.1L663.7 173.2ZM587.6 108.7L587.4 107.2L592.1 107.4L598.2 109.3L595.1 109.7L592.4 109.9ZM599.6 108.3L603.9 108.7L608 109.1L606.6 109.9L601.9 109.3ZM596.2 111.4L599.4 111.5L602.5 112.6L599.4 112.6L596.6 112.4ZM594.6 107.6L598.2 107.9L598.3 108.9ZM517.3 101.6L522.3 100.2L529.3 101.3L529 103.1L525.4 103.6L521 102.4ZM509.1 99.6L512 98.1L516.4 98.9L515.9 100.1L512.5 100.6ZM526.4 103.8L532.2 102.9L532.4 104.1ZM461.8 121.5L463.2 120.4L465 121.5L463.5 122.1ZM477.6 119.6L479.3 118.5L480.2 119.9ZM490 112.6L492 112.2L493.3 113L491.1 113.1ZM447.5 99.2L451.8 98.6L453.6 99.2L449.9 99.8ZM399.5 101.1L403.5 100.4L406.2 100.1L409.1 100.8L414.4 102.2L411.1 102.9L410.7 104.6L408.9 106.2L405.8 104.9L403.4 103.6L400.4 102.2ZM408.8 99.6L414.2 99.2L421.2 99.9L417.6 101.3L411.2 100.8ZM414 103.3L419.1 103.8L416.6 104.9ZM343.6 129L347.1 126.9L348.8 129L350.6 127.7L354.1 127.7L357.6 126.8L360.1 127.9L361.5 129.9L359.1 131.6L355.8 132.7L352.2 133.6L349.7 133.3L345.9 132.6L347.3 131.4L344 130.3L347.4 129.9ZM371.5 136.3L373.1 136.1L372.5 137.7ZM373.4 164.8L376.3 164L377.8 163.4L380.5 163.4L382.8 163.1L384.9 163.1L386.2 162.6L386.9 162L385.4 161.4L386.5 160.6L387.6 158.9L386.7 157.8L384.8 158L384.7 156.5L383.7 155.9L384.1 155.1L382.1 153.8L381.3 151.8L380.4 150.7L378.6 150.6L379.4 149.6L380.7 148.2L381 146.9L378 146.6L376.7 147L378.7 144.5L375.4 144.5L373.8 146.4L374.1 148.5L373 148.9L374.2 150.1L373.8 152L375.3 151.2L375.4 153.4L377.8 153.2L378.3 155.1L378.9 155.9L378.5 157L375.9 157L376.4 158.2L376.6 159.4L374.5 160.3L376.3 161L378.6 161.5L378.2 162L376.1 162.1L374.5 163.9ZM365.4 161L368.6 160.8L372.2 159.6L373 157.7L372.9 155.5L374.1 154.4L373.1 152.5L370.9 152.1L369 152.7L368.3 154.6L365.7 154.8L366.3 157L366.4 158.6L364.9 159.8ZM404.6 151.3L405.7 150.7L407.1 150.3L407.4 151.4L406.6 152.7L405.8 152.6L404.9 152.5ZM402.3 151.8L403.3 151.5L404.1 152.2L404 152.8L402.7 152.7ZM409.9 194.9L411.6 193.9L416.3 193.6L415.4 196.1L415.5 197.6L414 197.4L411 195.9ZM400.9 187.2L402.9 186.3L403.9 187.9L403.9 191.4L402.7 191.9L401.4 191.7L401.3 188.7ZM401.5 183.5L403.1 182L403.5 184.2L402.9 186L401.9 185.1ZM433.3 200.6L435.2 200.9L437.3 201.1L438.9 201.4L438.4 201.9L435.7 202L433.3 201.2ZM451.5 202.1L452.6 201L456 200.2L454.8 201.7L453 202.9ZM431.5 192.2L432.6 192.4L434.6 194.1L434 194.4L432.4 193.1ZM464.2 115.9L465 114.2L467.2 112.6L468.6 112.4L469.2 110.9L471.2 109.3L473.6 107.4L478 106.4L483.1 105.6L483.5 107L480 108.1L474.9 109.3L473.2 111.2L471.5 112.8L473.2 115.3L473.9 117.9L471.6 118.1L468.2 117.5ZM702.5 251.2L702.8 251.3L702.5 251.7ZM701.6 253.8L702 254L701.8 254.2ZM701.1 243.8L701.4 244.1L701.3 244.3ZM700.5 242.2L700.9 242.5L700.6 242.6ZM701.7 248.3L702.2 248.5L701.9 248.6ZM701.4 245.2L701.8 245.3L701.6 245.6ZM748.2 325.8L749.5 326.8L749.3 328.4L748.3 328.5L748.1 327.3ZM749.1 329L750.1 330.3L749.3 331L748.9 330ZM750.2 333L751.1 333.5L750.5 334.3L750 333.8ZM751.5 335.8L752.1 336.5L751.4 336.9ZM751.4 337.6L752.1 338.3L751.4 338.5ZM750.9 327.5L751.4 329.3L750.8 329ZM770 332.8L771.9 332.4L773.1 333.5L772.6 334.8L770.8 335L769.9 334.3ZM773.5 331L775.8 329.8L777.3 329.5L776.1 331L774.2 331.8ZM776 331.5L776.7 331.4L776.2 332ZM54 331.1L54.5 331.1L54.3 331.5ZM61.2 326.8L62.1 327L61.7 327.3ZM66.5 329.8L67 330L66.9 330.4ZM77.6 334.3L78.1 334.5L78 334.9ZM93.2 346.9L93.6 347L93.4 347.3ZM78.6 313.5L79.2 313.7L78.9 313.9ZM10.7 325L11.2 324.9L11.1 325.1ZM6 335.8L6.4 335.8L6.3 336.1Z"/>
<path class="lake" d="M443.1 186.4L444.1 186.5L448.5 185.8L450.7 184.7L452.2 184.5L455 184.4L456.8 185.1L457.7 186.2L458.7 186.1L461 186.9L462 187.1L464.6 186.9L466.2 186.9L467.9 186L468.2 185.3L468 184.1L466.3 182L464.7 181.3L463.5 180.5L461.9 179.3L459.7 178.2L459.2 177.8L458.1 177.3L456.8 176.7L456.9 176.1L458.1 176.3L459.2 174.5L459.1 172.9L460.8 171.9L458.9 171.9L457.6 172.1L456.3 172.8L453.5 173.9L452.6 174.3L454.2 176.3L456.2 176.1L454.3 177L453.5 177.5L452.4 177.9L452 178.3L451.3 178.6L450.6 178.1L450.2 176.6L448.4 176.2L450.4 174.9L450.3 174.4L448.9 174.4L446 173.3L446.1 173.2L444.6 173.5L444.2 174.5L442.9 176.7L441.2 179.1L441.2 180L441.1 181.1L440.1 181.5L439.5 183.2L440.3 184L440.7 184.8L442 185.8ZM438.5 188.3L439.9 187L442.9 186.9L444.9 187.6L443.1 188.4L441 188.6L439.1 188.4ZM477.8 175.5L479.5 174.1L480.8 173.8L482.2 173.2L485.5 172.4L487.9 172.7L489.3 176.3L485.9 176.3L485.8 178.1L483.9 178.2L486.3 180.4L488 182.2L489.6 183.2L490 185.1L491.2 186.7L491.3 187.9L492.1 189.4L492 190.8L493.9 192.2L495.1 195.8L495.7 197.1L493.7 197.3L493 197.6L490.4 197.7L488.8 197.1L486.1 195.7L484.4 193.3L484.3 192.5L484.9 191.2L484.6 188.9L486.5 188.4L484.9 187.9L483.5 186.2L482.2 184.8L481.4 184.3L479.4 182L479 180.5L477.3 178.1L477.1 176.3ZM204.1 172.8L206.8 172.4L210.4 169.7L213.4 168.3L217.2 167.9L219.2 170L218.7 172.4L217.9 173.4L214.8 173.4L212.8 172.5L211.9 171.4L209.2 172.7L207.1 173.2ZM213 175.4L216.1 174.5L217.4 175.1L215.2 177.1L212.6 179.5L211.6 182L209.2 185.1L207.9 185.3L208.4 182L210.4 178.5ZM217.7 174.9L220.3 174.4L223.7 174.6L226.5 176.1L226.1 177.6L223.9 178.1L221.7 179.5L221 181.5L219.4 182L219.8 179.8L217.6 180.4L217.3 179.8L219.4 177.3L219.5 176.2ZM216 185.2L217.1 184.2L220.9 182.9L224 182.5L226.3 182.4L223.9 184L220.4 185.2L217.4 185.8ZM224.9 181.3L226.7 180L230.1 179.5L232.7 179L232.3 180.6L229.4 181.4L226.9 181.1ZM454.9 291.3L455.3 289.5L456.9 288.6L459.1 288.7L459.7 290L459.3 291.8L458.6 293.8L457.5 294.8L456.2 294.5L454.9 293.3ZM449 297.8L449.5 300.3L449.9 303L451.4 306.3L452.7 309.8L451.8 310.8L450.7 308L449 304.3L448.6 301.3L448.4 298.5ZM458.9 313L460.1 314.3L460.9 318L460.6 321.3L461.3 323.5L460.8 325L459.9 324.8L459.6 321.8L459.5 319.3L459 316.8ZM491.7 186.2L492.1 184.5L494.2 184.7L494.8 186.4L493.6 187.4ZM227.1 261.9L228.2 262.8L228.3 264.8L226.9 266.6L226.1 265.3L226.4 263.1Z"/>
<path class="bord" d="M379.7 201.6L380.5 203.4L380.7 206.1L381.8 209.1L378 210.1L376.6 212.1L373.7 214.4L372.6 214.9L369.2 215.4L365.8 217.6L365.8 221.1M365.8 220.2L356.2 220.2M365.8 221.1L365.7 224.4L358.6 224.4L358.4 230.7L356 232.3L356.2 236L347.6 236L347.4 237.3M365.8 221.1L373.9 226.8M373.9 226.8L370.2 226.8L371.4 239.3L372.6 248.6L372.1 250.6L364 250.6L360.9 250.8L360.5 251.6L359.2 250.3L358.5 252.1L357.6 252.5M357.6 252.5L355.9 250.6L354.2 249.1L352.7 247.8L350.5 248.1L348.7 248.1L348.3 249.2M357.6 252.5L358 254.6L359.3 257L359.3 258.3M359.3 258.3L357.3 258.4L354.3 257.7L351.4 257.7L347.7 258.4M348 255.3L350.4 255.3L351.2 254.8L353.6 255.5L354.1 256L352.5 256.2L350.6 256L349.7 256.5L347.6 256.6M354.3 257.7L354.2 260.1L352 260.6L351.4 261.9M355 266.7L356.8 264.6L359.7 264.3L361 266.6L361.6 268.1L361.6 268.8M361.6 268.8L359 271.9M361.6 268.8L363.6 268.1L363.8 270.8L365.6 270.3M365.6 270.3L366 273.3L367.8 274.8L367.6 278.3M365.6 270.3L366.9 268.3L366.7 263.8M359.3 258.3L361.3 259.3L363.9 258.3L365.6 260.8L366.7 263.8M366.7 263.8L370.7 263.1L372.2 263.3M372.2 263.3L374 265.1L378.3 265.6M378.3 265.6L378.8 268.8L377.2 272.3L377.9 276.6L377.4 276.6M372.2 263.3L372.7 259.8L374.6 257.6L376.4 256.1L377.9 254.3L379.9 252.8L382.8 251.7L384.8 252M378.3 265.6L378 261.8L384 261.6M384 261.6L384.9 263.6L385.5 268.1L385.6 272.1L386.9 274.1M384 261.6L386.3 261.8M386.3 261.8L386 263.3L387.4 265.6L387.8 273.7M386.3 261.8L389.5 259.6M384.8 252L386.4 255.6L388.9 257.7L389.5 259.6M389.5 259.6L392.2 260.1M392.2 260.1L392.6 263.3L390.3 266.8L390.2 273.3M392.2 260.1L392.2 258.1L393.3 255.6L396.3 254.6L399.4 256.8L402.9 256.7L406.2 256.1L411.7 256.6L414 255.1M393.5 241.5L393.5 247.1L391.9 250.8L387.1 251.1L384.8 252M373.9 226.8L386.8 236.6L386.9 237.6L391.2 239.8L391.4 241.8L393.5 241.5M393.5 241.5L396.9 240.7L400.4 237.2L410.1 230.5M410.1 230.5L405.8 228.1L404.4 223.9L405.5 222.9L405.4 218.6L404.4 213.7M404.4 213.7L403.3 209.1L400 204.6L401.4 202.6L401.5 199.4L402 197M404.4 213.7L406 212.1L406 210.1L408.4 208.4L408.5 206.5M410.1 230.5L414.9 232.8L416.6 231.8M416.6 231.8L436.3 240.6M436.3 240.6L436.3 239.3L438.5 239.3L438.3 234.3M438.3 234.3L437.4 216.4L436.6 214.1L437.3 210.5M438.3 234.3L464 234.3M416.6 231.8L418.8 238.5L418 247.1L414 253.1L414 255.1M414 255.1L415.2 256.6M415.2 256.6L415.4 258.3L414.6 261.8L412.6 265.6L410.7 270.1L409.2 272.6L406.7 272.1L404.8 274.3L403.8 275.8L403 277.8M415.2 256.6L416.9 257.6L417.3 260.6L418.3 264.3L415 264.4L418.4 270.6M418.4 270.6L416.2 274.3L416.5 276.8L417.6 279.6L419.8 283.8M419.8 283.8L419.8 285.1L416.3 283.9L413.6 283.8M413.6 283.8L409.3 283.8L405.9 283.6M409.3 283.8L409.3 286.8L405.9 286.8M413.6 283.8L416.1 285.8L415 289.3L416.3 290.8L416 294L413 295.3L411.9 294.3L409.9 295.3L410.5 298L408.8 299.2M410.7 301.8L411.8 300.8L413.2 300.8L412.5 301.8L411.2 303.7M413.2 300.8L416 301.4L418 300L420 294.8L423.3 290.8L423.8 286.8L424.2 283.3L425.3 280.6M419.8 283.8L420.9 280.6L425.3 280.6M425.3 280.6L425.3 278.6L427.2 276.6L429.7 278.3L433.7 279.1L435.9 277.8L438 276.6L440 276.8L444.8 276.7M418.4 270.6L420.8 270.1L425.2 269.2L426.3 266.8L429.1 266.6L431.9 262.8L434.5 261.9M436.3 240.6L436.7 250.1L434.3 250.6L432.5 257.6L434.5 261.9M434.5 261.9L436.3 264.7L435.9 267.4L437.5 267.6L439.7 269.8L442.4 272.8L444.8 276.7M437.5 267.6L439 264.8L442.5 265.6L445.8 265.9L449.1 264.8L450.2 263.7L453 264.9L455.3 260.1L457 258.8L456.9 262.6L459.2 265.6M459.2 265.6L459.6 262.8L461 259.8L463.4 257.6L464.1 253.7M464.1 253.7L464 251.6L464.9 246.7L468.2 244.3M464.1 253.7L467.1 252.2L469.5 252.8L472.2 253.2L475.3 256L477.2 258.1L478.7 257.6M477.2 258.1L475.9 260.1L476 261.8L478.4 261.9L479.1 260.7M478.4 261.9L480.3 265.8L481 266.8L487.7 269.3L489.9 269.3L483.4 276.8L479.1 277.8L476.7 279.4M476.7 279.4L474.2 278.7L472 279.7L468.3 280.3L465.6 278.3L463.4 277.8M459.2 265.6L459.3 267.8L456.9 269.6L460.7 272.6L462 275.8L463.4 277.8M463.4 277.8L459.2 278.8L457 279.8L454.8 280.4L452.3 280.6M452.3 280.6L449.3 277.8L446.9 278.6L444.8 276.7M476.7 279.4L474.7 282.3L474.7 291.3L476 293.4M459.2 278.8L460.4 281.6L461.5 285.1L460.4 286.6L459.3 288.6L459.2 289.1M459.3 291.8L467.2 296.8L467.4 298L470.7 300.9M451.6 291.9L454.4 291.8M452.3 280.6L452.1 283.3L453.3 283.9L450.5 286.8L450.4 288.1L449.6 290.5L449.6 292.7M449.6 292.7L451.6 291.9L452.3 295L451.3 297.5L449.1 300.4M449.6 292.7L448.7 293.5L448.2 296L448.7 297.5M448.2 296L450.2 295.2L452.3 295M451.9 309.8L456.6 312.8L458.9 313M460.9 318.2L464.3 318.5L468.7 317.8L473.1 315.4M460.8 325L462.6 325.8L462.4 329.3L461.2 332L459.1 329.3L459.7 325.5L456.9 324.3M456.6 312.8L457.4 316.5L456.6 320.8L456.9 324.3M456.9 324.3L450.7 326.8L450.6 328.3M450.6 328.3L447.6 329L444.8 331.8L440.8 334.1L439.2 333.8M451.9 309.8L447.8 310.4L446.7 312.5L447.1 314.3L446.5 320.5L447.9 320.3L449.6 319.7L449.5 322.9L445.6 321.5L443.5 319.3L440.2 317.5L437.8 317.7L437 316.5M437 316.5L436.8 321.8L432.5 321.8L432.3 329.8L435.2 333.3L439.2 333.8M411.5 304.4L413.1 303.9L420.8 303.9L421.5 307.3L422.8 309.5L427 309.3L427.2 306.8L432.3 307.5L432.1 317.3L433 317.3L437 316.5M409.9 332.4L413.5 331.8L415.2 332.8L424.3 332.8L430 334.1L435.2 333.3M439.2 333.8L437.6 334.4L435 334.3L429.9 335L429.6 344.3L427.5 344.3L427.2 351.1M427.2 351.1L426.8 360.2L422.5 361.4L419.3 360.7M427.2 351.1L428.5 356.4L430.7 356.4L433.6 352.5L439.2 353.3L442.1 350L442.4 348.4L447.6 344.8M447.6 344.8L444.8 343.3L444.3 340.5L441.2 337L439.2 333.8M447.6 344.8L451.8 345.3M451.8 345.3L454.3 342.5L455.8 338.8L455.8 335.5L456.2 331.8L454 330.5L452.6 329.3L450.6 329.3L450.6 328.3M451.8 345.3L453.1 350.5L452.6 354.1L452.9 356.4L454.6 356.4M452.6 354.1L450.9 354L450.1 356L451.1 357.5L452.9 356.4M445.1 360.7L446.7 362.5L446.2 364L443.7 365.7L441.5 363.2L443.2 361.5L445.1 360.7M456.5 211.1L458.3 215.6M159.8 120.1L136.5 140.6L139.2 141.1L139.5 143.8L142.5 142.6L145 141.8L144.8 142.9L145.7 145L145.2 148.2L146.8 150.6L144.6 152.9L143.9 153.5M147.6 167.3L200.8 167.3L201.9 166.5L204.5 168.3L206.8 169.5L210.4 169.7M218.5 173.4L219.5 174.4M219.4 182L218.8 183L217.1 184.2M226 182.2L226.3 181.4M232.5 179L236.6 177.1L242.9 177.1L244.6 176.1L246.3 174.1L247.3 172.9L249.5 171.1L251.2 171.3L251.9 172.1L250.8 175.4L251.1 176.3L251.7 177.3M138.3 208L143.6 207.6L143.1 208.1L150 211L156.1 211L156.4 209.9L160 209.9L162.3 212.7L162.8 215.5L165.1 216.9L166.5 215.1L169.3 214.9L170.1 216L170.6 217.6L172 220.6L172.2 223.4L174 224.2L176.2 224.5M182.7 253.1L183.1 251.7L184.2 249.2L187 249.2L185.2 246.2L186.2 246.2L186.4 244.8L190.3 244.8L191 244.6L192.4 243.1M190.3 244.8L189.7 249.6L190.3 249.6M191.7 250L189.4 252.1L188.9 253.3L187.1 255M188.9 253.3L190.7 254.3L191.8 254.6L192.4 255L192.1 255.8M193.1 256.8L194.5 256.1L196 254.3L198.5 252.6L200.7 252.5L202.6 251.8M196.2 261.6L198 261.8L199.9 262.3L200.7 262M202.9 265.4L202.1 266.6L201.9 269.2M214.2 267.7L214.5 269.4L212.8 271.3M228.7 240.1L228.6 242.3L227.8 242.8L228.2 244.2M227.8 259.7L225.6 261.4L223.9 264.8L224.8 268.3L224.9 269.6L225.8 271.8L230 271.8L231.3 274.1L235.7 273.8L234.8 276.1L234.8 278.8L235.9 280.8L234.6 282.3L236 283.6L236.8 286.3M236.8 286.3L236.2 285.1L234.3 284.9L230.2 285.1L230.2 286.6L231.6 286.8L231 287.6L229.7 287.9L229.7 289.8L230.7 290.5L231.2 292.7L230.1 299.8M230.1 299.8L228.4 298.8L229.7 295.9L227.9 295L225.9 294.9L223.5 295L221.9 292.5L220.1 291.5L218.1 289.7M210.3 285.8L212.2 287.1L213.5 288.3L215.9 288.3L218.1 289.7L218.1 291.7L217.5 293.2L215.1 295.8L212.7 296.8L211.6 298L210.8 300.8L210.2 301.8L209.1 300.5L207.1 300.3L207.2 297.8M252.3 267.9L250.7 270.6L249 274.4L250.4 276.3M250.4 276.3L248 278.8L245.9 279.3L243.2 279.3L242.1 279.1L243.1 283.1L244.4 283.8L243.1 284.4L239.8 287.3L238 287.4L236.8 286.3M250.4 276.3L252.1 276.7L252.1 278.1L253 279.4L252.3 280.8L252.4 283.6L254.1 286.1L256.3 285.6L257.9 284.4L259.6 284.4M258.5 274.4L258 276.8L256.6 279.3L257.9 280.9L259.6 284.4M265.3 274.9L264.3 276.8L264.3 279.3L265.2 280.8L263.8 283.5M259.6 284.4L261 284.7L261 283.1L263 282.9L263.8 283.5L265.6 283.6L267.6 283.8L268.5 282.8L270.4 278.8M230.1 299.8L228 300.3L223.7 302.5L223.1 305.8L221.4 308.2L223.8 311.8L223.4 312.8L225.5 314.3L227.9 314.3L229.1 313L229.4 316.8L231.6 316.7M231.6 316.7L233.9 320.5L233.3 323.3L233.7 325.5L232.9 326.8L232.4 328.3L233.8 329.8L233 333L231.4 335.1M233 333L234.6 336.6L235.8 337.8L235.4 340.3L236.9 343L238 346.4L239.4 346.3M239.4 346.3L241 343.8L243.5 344.5L245.6 346.3L246.1 344.3L249 344.9M249 344.9L249.5 340.6L250.4 338.4L256 337.5L258.3 339.6M231.6 316.7L234.4 316.8L238 314L240.6 313.5L241 316.5L241.1 318.5L243.2 320.5L246.3 320.9L249 323L251.9 323.8L252.7 327L253 329.9L256.9 330L257.2 332.5L259.2 334.3L258.8 336.8L258.3 339.6M258.3 339.6L259.4 344.5L263.4 345L264.4 346L265.1 349.3L267.5 349.4L267.2 353.3M249 344.9L252.9 348L255.2 349.3L260.5 352.5L259.2 357.4L264.7 357.5L267.2 353.3M267.2 353.3L269.1 354.7L269.6 357.1L265.5 360L262.3 364.7M262.3 364.7L266 366.5L266.8 366.4L270.6 369L272.2 370.7L272.9 371.2L272.6 373.6M262.3 364.7L262 368L262 370.5L262.3 374.2M239.4 346.3L239.9 346.8L239.5 349.3L237.1 351.3L237.8 354.7L238.3 356.5L236.9 358.5L235.8 361L236.1 364.7L235.7 368L237.3 371.7L238.6 374.7L237.7 377.2L237.5 380.5L238.3 384.2L238.4 388.2L239 391.7L239.8 394.9L241.3 398.1L243.1 401L243.5 404L244 406.9L244 410.1L243.4 412.5L245.2 415.4L246.8 416.1L247.3 417.8L248.6 418.5L252.2 418.5L255.4 419.4M255.5 420.1L257.8 425.4M468.1 185.7L470.1 185.8L472.1 186.7L472.9 187.7L472.9 189.2L475.5 190.2L474.1 190.9L475.1 193.4L476.6 196.5M476.6 196.5L471.6 196.6L466.9 197.4L462.7 197.4L460.7 197.8L460.1 198.8L459.7 199.4L459.2 199.7L458.7 199.5M464.1 181L469.2 181.5L472.1 183L474.5 182.7L477.7 184.7M477.7 184.7L478.3 186.7L475.2 186.2L472.1 186.7M477.7 184.7L479.8 186.2L482.2 184.8M475.2 186.2L476.6 187.4L477.7 188.9L479.1 190.7L479.4 192.2L478.7 192.3L475.5 190.2M475.5 190.2L477 190.7L478.2 191.4L478.7 192.3M479.4 192.2L482 190.2L482.8 190.9L482.5 192.4L484.4 193.3M459.2 202.7L460.1 202.9L460.7 203.9L459.3 205.9L457.8 206.6M459.3 205.9L459.2 207.6L459 208.4L459.1 210.6L458.8 213.6L458.5 215.5M459 208.4L457.9 208.9L458 210.9L459.1 210.6M459.2 207.6L461.6 208.6L465.5 205.9M465.5 205.9L469.8 203.4L469.6 199.4L469.9 198.1L471.6 196.6M465.5 205.9L466.7 209L462.3 210.6L464.6 213.1L463.7 214.4L462.2 214.7L460.9 216.4L458.5 216M466.7 209L469.3 209.5L473.1 211.6L479.2 216.4L482.9 216.7L483.2 216.6M483.2 216.6L485.3 214.1L486 214.4L486.8 214.6M483.2 216.6L485.1 216.9L485.8 218L487.3 218M476.6 196.5L478.3 199.4L479.7 199.9L480.3 201.6L479.5 203L479.3 204.5L480.9 206.6L483.9 208.4L485 209.9L485 211.9L485.8 213.1L487.1 214.5M493.4 227.5L494.3 227.8L495.1 227.7M495.2 228.7L495.3 229.1L497.7 232L503.2 232.8L504.5 234.3M504.5 234.3L503.3 232.6L504.7 229.1L504.3 228.8L504.8 227.5L505.3 226.9M504.4 224.2L505 225.3M504.5 234.3L503.5 239.3L497.2 241.8M497.2 241.8L491 242.8L489.1 244L486.1 246.1L483.1 246L482.7 245.7L480.1 245.8L478.7 245.5L478.2 247.6L477.6 248.3M497.2 241.8L500 247.7M495.3 196L497.1 195.9L498 194.1L501.6 193.8L504.4 195.3L506.3 195.6L508.8 197.8L510.6 197.8L511.3 200.4M511.3 200.4L511.5 202.6L510.6 204.1L510.8 205.2L511.7 205.6L511.3 206.6L512.5 210.6L514.4 210.9L514.8 212.2L513.3 214.7M513.3 214.7L516 218L518 218.7L518.4 221.2L519.5 221.5L519.4 222.7L516.7 223.7L516.5 226.3M513.3 214.7L516.9 215.9L520.3 215.7L524.8 214.7L524.5 212.1L525.4 211.1L527.3 211L527.9 209.9L530.2 209.6L530 206.9L531.5 206.1L530.3 204.4L532.7 204.2L533.2 201.9L532.6 200.4L531.8 199.1L534.9 197.3L537 197.3L538.6 196.3M511.3 200.4L513.8 201.5L515.1 199.7L517.7 198.6L517.9 196.6L521.2 196M521.2 196L524 196.4L526.2 196.1L527.3 195.5L528.7 195.5L529 194.1L530.5 193.6L531.4 194.6L531.9 197.5L534.3 196.3L538.6 196.3M521.2 196L521 194.4L515.7 192L511.2 189.4L509.4 186.7L505.6 186L504.9 184L501.7 182.7L499.7 184L499.4 186.2L497.4 186.2M497.4 186.2L496.3 186.3L494.4 184.3L490.9 184.2L490 185.1M497.4 186.2L495 177.1L499.7 175.7L505.4 178.5L508 180.8L513.6 180.3L516.6 182L517.1 184.5L518.2 184.7L519.1 186.6L521.5 186.6L523.6 186.1L526.9 183.8M526.9 183.8L527.2 184.5L526.6 186L528.7 186.2L530.4 186.9L532.3 187.4L531.2 188.4L530 189L527.7 188.9L527.5 188.8M527.5 188.8L527.3 186.9L524.6 187.4L525.1 188.9L523.7 189L522.9 190.7L521.7 190.7L522.6 191.9L523.5 192.2L523.9 194.4L524.5 194.4L524 196.4M527.5 188.8L525.3 189.7L525.5 190.5L527.9 190.4L530.5 190.8L534.5 190.8M534.5 190.8L535.4 192.9L538 193.4L538 194.9L538.6 196.3M534.5 190.8L534.6 189.4L536 188.2L539.7 186.9L542.6 186L545.6 184.3M526.9 183.8L526.9 182.5L531.9 183.5L531.4 182L532.8 181.5L535.9 182.5L539.5 182.2L543 182.6L545.6 184.3M545.6 184.3L544.9 182L545.8 181.5L543.6 177.8L542.4 177.3L547.2 176.6L546.5 175.7L546.2 171.7L551.2 172.1L550.2 168.8L551.5 167.1L552.5 166.9M552.5 166.9L549.9 166.1L547.9 165.9L544.5 163.4L542.9 162.5L539.5 163.1L536.8 163L529.8 157L526.5 155.5L523.1 156.5L520.7 155.4L516.4 154.9L514.4 152.2L511 152.1L509.9 152.9L505.1 154.5L497.7 155.4L499 156.5L499.1 159.2L498 160.3L501.1 161.8L501.2 163L498.3 162.8L497.8 163.6L495.7 162.4L491.7 162.4L490.5 163.6L487.9 162.5L483.9 161.3L480.4 160.8L477.1 163.4L477.8 165L475 163.9L474.2 165.2L474.5 167.4L475.5 169L477.8 170.3L480.2 172.9L479.4 173.3L480.8 173.8M552.5 166.9L553.4 166.9L555.1 166.1L556.4 165.5L559.5 163.1L565.4 164.8L570.9 165.5L571.8 163.6L570.3 162.5L570.8 159.8L578.1 161.6L579.4 163.4L584.8 163.9L588.1 164L593 166.5L597.5 166.9L601.3 165.9L602.8 164.3L608 165.2M553.4 166.9L554.4 168.3L558 169.7L562 172.4L563.8 176.6L569.2 177.2L573.8 178.9L577.5 182.6L584.8 182.9L588.6 183.2L596 185.5L600.1 183.4L603.7 183.4L606 181.1L607.4 180.3L605.5 178.7L605.5 176.9L609.3 177.7L612.6 175.8L613 173.9L614.3 173.3L618.9 172.9L614.3 169.9L613.4 170.6L608.8 170L608.2 167.7L608 165.2M608 165.2L610.7 166.1L612.2 164L609.9 158.6L610.2 157L614.7 156.4L619.4 157.6L628.8 165.4L636.3 167.5L638.6 170.5L641.9 170.5L645.5 168.6L646.2 170.5L647 173.9L647.3 176.8L644.9 176.5L644 177.8L646.1 180.8L645.9 182.9L646.6 183.5L646.9 183.7M646.6 183.5L644.2 182L644.6 183.4L642 184.5L640 185.1L639.3 187.2L637.2 189.5M643.5 195L644.7 193.6L647.1 192.9M617.7 235.6L615.4 234.6L614.3 232.1L611.1 231.1L608.7 233.1L606.5 233.1L604.7 233.3M604.7 233.3L604.2 236.3L603.2 236.3L602.9 235.4M602.9 235.4L601.1 238.5M602.9 235.4L600.3 235L598.5 234L598.8 232.1L597.4 231.3L596.6 229.3L594.3 229.6L593.8 227.5L595.7 224.6L594.7 220.6L591.9 218.1L591.6 218.7M591.6 218.7L591.5 221.6L587.9 222.9L587.2 225.8L587.6 226.8L586.9 229.7L585.1 229.2L585.6 231.8L585.1 234.3L584.3 234.4M584.3 234.4L583.6 236.1L584.1 237.6M584.3 234.4L583.1 231.1L582.2 230.1L580.7 230.6L580.7 229.1L582.7 227.1L581.7 226.3L577.1 226.1L576.5 223.9L574.7 223.4L573.4 223L573 224.6L575 226.2L573.4 227.7L575.1 228.6L575.2 231.3L576.6 234.1L576.8 234.8M531.1 230.2L532.1 228.6L536.9 228.3L535.6 225.1L534.2 223.1L532.8 221.9L534.3 219.4L537.5 219.5L539.2 216.9L539.8 214.5L541.6 211.9L541.3 209.6L542.8 208.6L540.9 206.9L539.3 206.4L538.3 203.1L541.6 202.9L544.5 202.7L545.8 200.6M538.6 196.3L540.8 197.6L542.2 199.7L545.8 200.6M545.8 200.6L548.8 203.5L549.9 206.9L549.7 208.1L550.4 211.1L551.3 211.1L553.8 212.9L555.8 213.9M555.8 213.9L554.5 217.4L557.1 218.5L559.1 219.6L562.1 221L563.7 220.6L565 221L566.4 222.5L568.2 222.7L570.7 223.4L572.8 223.4L572.8 222.5L572.2 219.6M555.8 213.9L558 213.5L562.4 216.1L565.5 217.9L567.6 219.6L569.7 219.5L572.2 219.6M572.2 219.6L573.5 219.2L574.1 221.1L575.5 218.9L577.1 219.2L579.7 219.9M574.1 221.1L574.5 222.2L576.5 222.6L581 222.2L579.7 219.9M579.7 219.9L582.3 218.6L584.4 216.6L587 216.7L588.5 216L591.6 218.7M601.1 238.5L599.5 239.1L596.8 240.1L596.7 242.8L595.9 243.1L599.3 249.1L599.9 248.6L598.8 251.6L601.5 256.6L601.7 260.1L601.1 263.3L600.7 264.3M601.1 238.5L602 239L602.5 240.6L603.9 240.5L604 244.8L604.4 245.6L606.3 243.8L607.7 244.7L609 243.3L612.2 245.6L612.6 248.1L614.8 250.2L614.9 253L614.3 253.6M614.3 253.6L609.5 253.7L608.7 255.3L608.3 255.5L608.8 257.6L609.9 260.1M614.3 253.6L616.2 254.5L617.8 253.6L619.3 252.6M604.7 233.3L606.7 235.3L607.4 237.1L610.7 237.7L611.6 239.3L609.9 240.8L612.8 242.7L616.3 246.8L618.4 249.6L619.2 251.1L619.3 252.6M619.3 252.6L619.9 258.4L617.6 259.4L616.4 260.3L617.3 261.8L614.9 261.9L613.6 263.3M604.7 273.2L607 275.2L608.5 274.8L609.1 273.7M626.2 284.2L626.1 286.8L628.1 287.2L631 286.8L631.8 285.7L635.2 286.2L637.1 285.7L638.8 281.8L638.9 278.6L643.5 278.9M635.8 277.8L637.4 279.1L638.4 277.1L637.9 276.8M695.3 295.8L694.2 312M656.9 312.7L657.8 312.3L657.4 313M659.1 311.7L659.4 313M366.5 184.8L367.8 184.2L371 184.6L371.8 185.5L370.3 186.9L370.4 188.9L370 190.2L369 190.3L370 192.2L369.3 193.4L369.9 193.9L368.9 196.4M380.7 181.1L381.5 181.9L382.9 182.2L385.7 182.7L387.2 183L387.8 183.2L388.3 183.6L390.6 183.4M399.3 180.1L399.6 179.2L398 178.5L398.1 177.8L397.4 176.8L398.3 176L397.8 175L398.1 174.8M398.1 174.8L397.6 173.6L396 174.1L396.2 173.3L397.7 171.4L397.9 171L399.1 170.8M399.1 170.8L399 169.7L399.4 168.3L400.1 167.4L397.8 166.8L396.5 166.2M396.5 166.2L395.4 166L393.6 165.4L393.6 164.5L392.2 164.9L390.4 163.1L389.1 162.3M395.4 166L395.3 164.9L396 164.6L396.7 165.4L396.5 166.2M396 164.6L396.5 164L395.7 163.1L395.1 163L395.4 162.1L393.8 161.4L392.4 161.6L390.7 161.6M395.7 163.1L395.9 162L395.6 160.4L397.1 160.2L397.6 159.5L397.5 158.5L397.7 157.1M400.2 153.2L401.7 153.4M410.8 155.5L411.2 157L410.8 158L411.8 158.8L412.2 161L412.8 162.5L412.5 162.8M412.5 162.8L411.5 162.5L409.1 163.8L407.4 164.2L408.5 166.1L410.9 167.9M410.9 167.9L410.2 168.8L409.3 169.5L409.6 170.7L408 170.6L405.5 171.2L404.2 171.4L403 170.9M403 170.9L401 170.5L399.1 170.8M403 170.9L403 172.1L404.7 172.5M404.7 172.5L404.1 173.9L402.5 173.5L402 175L400.9 173.9L399.7 174.8L398.1 174.8M404.7 172.5L406.2 172.3L408.1 172.1L408.5 172.9L411.1 173.3M411.1 173.3L410.6 174.1L411 175L411.4 175.6M411.1 173.3L412.9 173.6L414.9 172.9L415.8 172.5M415.8 172.5L416.4 171.2L417.5 170.5L417.6 169.7L417 168.3M417 168.3L413.2 167.3L412.7 168.3L410.9 167.9M412.5 162.8L414.8 163.4L416.2 164.6L418.1 164.2L420.5 166M420.5 166L419.2 167.1L417.5 167.7L417 168.3M420.5 166L421.7 165.9L423 166.8L425.6 166.3L427.7 167.1M417.6 169.7L419.3 170.3L420.8 170.1L422.9 169.4L425.7 168.4L427.2 168.8L427.7 167.1M427.7 167.1L427.9 165.9L429.3 163.9L430.2 162.8L429 161.3M429 161.3L428.8 159.8L428 159.4L429.1 158.4L428 155.4M428 155.4L426.5 154.5L420.6 154.2M426.5 154.5L426.1 153.1L423.4 152.3L422.9 152.3M422.7 150.4L424.3 149.6L428 149.9L429.6 149.6L433 151.3M433 151.3L432.2 153.1L432.1 154.6L430.7 155.1L429.6 155.5L428 155.4M433 151.3L435.6 150.2L434.3 147.5L433.6 147L431 146.3L429.7 145.9L428 146.2M433.6 147L433.5 145.2L433.2 143.6L434 142.5M435.6 150.2L440.9 151.5L441.1 153.4L445.1 157.4L444.3 159.8M444.3 159.8L442.3 161.5L439.2 161L435.3 160.7L431.5 160.3L429 161.3M444.3 159.8L447.9 159.2L451.6 162.5L452.1 163.9L455.9 163.9L457.1 165.1L461.3 165.9L461.4 170.1L458.9 171.9M435.8 169.1L438.1 168.6L441 170L442.8 172.7L443.3 173.6L439.9 176M435.8 169.1L437.1 170.2L439.2 172.4L439.9 176L442.8 176.5M427.2 168.8L428.7 169.7L432.7 170.3L435.8 169.1M428.7 169.7L427.1 171.2L425.8 173.6L424.1 174.3M424.1 174.3L421.4 174.8L418.9 174.7L416.8 173.5L415.8 172.5M416.8 173.5L415 174.1L414.4 175.8L413 175.5L411.1 175.9M421.4 174.8L422 176.3L422.6 176.6L422 177.4M422 177.4L417.9 176.6L415.9 176.6L415.5 177.6L416.5 179L419.5 182L421.3 183.1M422 177.4L422.2 178.8L423.2 180.5L422.6 180.8L421.7 181.5L421.3 183.1M422.6 180.8L425 182.4L424.5 183.1L423.6 183.2L423.2 184.8M425 182.4L425.8 181.4L427.3 182.4L427.9 182.7L427.6 183.8M424.5 183.1L425.8 184.8L427.6 183.8L429.2 183.7M424.1 174.3L426.5 176.6L426.8 177.6L427.9 178.1L428.9 177.8L429.3 179M429.3 179L428.9 180L430.3 181.6L429.2 183.7L430.6 186.1M429.3 179L430.1 180L433.1 180.3L435.1 180.4L438 179.3L441.2 180.2M430.6 186.1L428.8 186.6L426.8 187.3L425.7 186.2L425.8 184.8M426.8 187.3L426.4 189.2L425 190.2M430.6 186.1L433.7 185.6L435.4 186.3L437.4 185.2L438.6 184.5L440.7 184.5M437.4 185.2L438 186.1L437.1 187.6M404.2 143.8L404.9 143.6L405.1 141.8L406.2 140.6L405.7 139L406.6 138.2L405.4 137.5L405 134.5L404.7 133.4L407.8 132.3L407.3 131L408.5 129.4L408.5 127.7L409.9 127.3L411 124.7L412.3 123.4L413.6 122.5L416.6 122.7L417.2 121.3M417.2 121.3L419 121.6L419.8 122.5L422.7 123.7L422.8 125.3L423.7 126.2L423.4 127.3L424.4 128.3M417.2 121.3L418.3 120.8L420.3 122.1L422.4 122L424.6 122.3L425.7 121.5L425.7 120L428.5 119.2L430.6 120L430.7 121.4M430.7 121.4L432.2 120.1L433.3 119.8M430.7 121.4L430.4 123.2L433.1 124.2L432.1 126L434.4 128.6L434.2 130.5L435.8 131.9L435.2 132.9L438.3 134.8L436.2 138.6L433 140.1M370.8 152.8L369.2 154.2L370.7 154.9L372.6 155.1"/>
</svg>
<div class="title"><span class="w" style="left:101.8px;letter-spacing:0.00px">Latin</span> <span class="w" style="left:153.7px;letter-spacing:-0.15px">America</span> <span class="w" style="left:235.8px;letter-spacing:0.25px">Logistics</span> <span class="w" style="left:324.8px;letter-spacing:-0.05px">Software</span> <span class="w" style="left:414.3px;letter-spacing:0.00px">Market</span> <span class="w" style="left:485.5px;letter-spacing:-0.67px">Revenue</span> <span class="w" style="left:571.6px;letter-spacing:-0.52px">Share,</span> <span class="w" style="left:637.2px;letter-spacing:-0.27px">2024</span></div>
<div class="source"><b>Source</b>: Straits Research Analysis Company Publications, Primary Interviews.</div>
<div class="botline"></div>
</div>
<div class="panel">
<div class="big">6.3%</div>
<div class="rule"></div>
<div class="desc"><span class="w" style="left:15.3px;top:0.0px;letter-spacing:0.05px">Latin</span> <span class="w" style="left:68.0px;top:0.0px;letter-spacing:-0.20px">America</span> <span class="w" style="left:15.3px;top:30.1px;letter-spacing:0.27px">Logistics</span> <span class="w" style="left:105.4px;top:30.1px;letter-spacing:0.00px">Software</span> <span class="w" style="left:15.7px;top:60.2px;letter-spacing:0.05px">Market</span> <span class="w" style="left:86.5px;top:60.2px;letter-spacing:-0.50px">Revenue</span> <span class="w" style="left:15.8px;top:90.3px;letter-spacing:-0.52px">Share,</span> <span class="w" style="left:81.7px;top:90.3px;letter-spacing:-0.33px">2024</span></div>
<svg class="logo" width="110" height="44" viewBox="860 376 110 44">
<polygon points="863.2,402.1 887.1,390.6 893.9,390.6 893.9,402.1 887.7,402.1 863.2,415.1" fill="#0cc6f9"/>
<polygon points="863.2,378 887.7,390.6 876.6,396.5 863.2,390.6" fill="#0a1f4e"/>
<polygon points="876.6,396.5 887.7,390.6 887.7,402.1" fill="#0bbcf1"/>
<text x="898" y="402.1" font-family="'Liberation Serif','Times New Roman',serif" font-size="25.5" fill="#111" textLength="53.5" lengthAdjust="spacingAndGlyphs">straits</text>
<text x="918" y="412.3" font-family="'Liberation Serif','Times New Roman',serif" font-size="9" fill="#000" stroke="#000" stroke-width="0.25" textLength="38.6" lengthAdjust="spacing">research</text>
</svg>
</div>
</body>
</html>
